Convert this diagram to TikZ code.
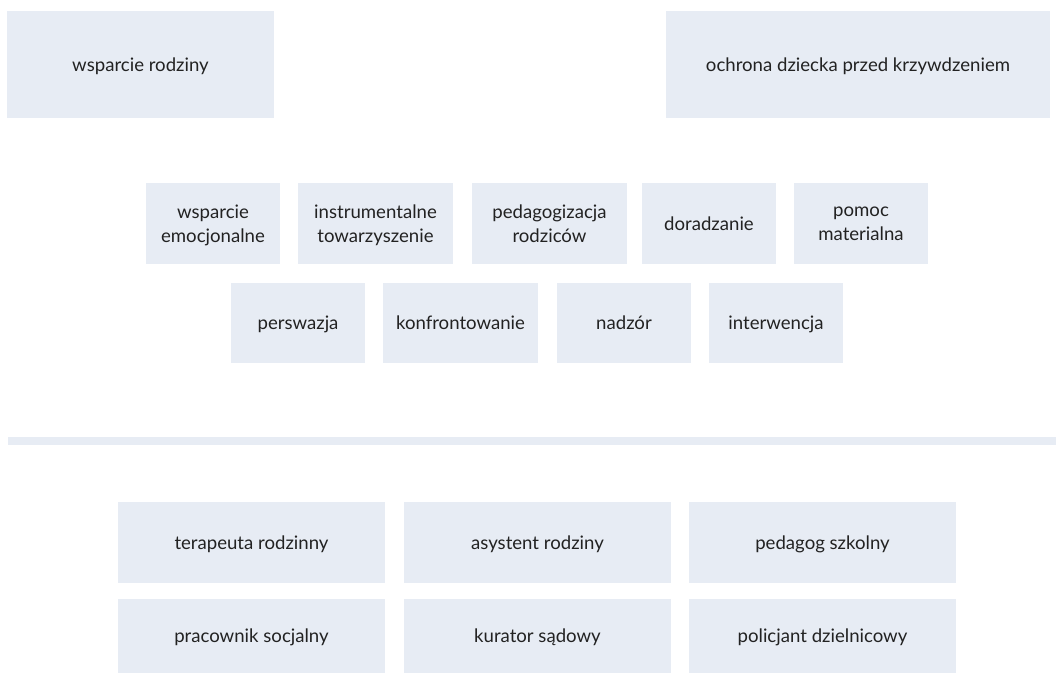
\documentclass[tikz,border=0pt]{standalone}
\usepackage{fontspec}
\setmainfont{Lato}
\usepackage{tikz}
\usetikzlibrary{positioning}

\definecolor{boxfill}{HTML}{E7ECF4}
\definecolor{boxtext}{HTML}{222222}

\begin{document}
\begin{tikzpicture}[
    x=1pt, y=-1pt,
    box/.style={rectangle, fill=boxfill, draw=none, inner sep=0pt, text depth=0pt, align=center, text=boxtext, font=\fontsize{18.6}{24}\selectfont},
    bigbox/.style={box, minimum height=107pt},
    smallbox/.style={box, minimum width=134pt, minimum height=81pt},
    widebox/.style={box, minimum width=155pt, minimum height=81pt},
    rolebox/.style={box, minimum width=267pt, minimum height=81pt}
]
\useasboundingbox (0,0) rectangle (1056,673);

% top: two aims
\node[bigbox, minimum width=267pt] (wsparcie) at (140.5,64.5) {wsparcie rodziny};
\node[bigbox, minimum width=384pt] (ochrona) at (858,64.5) {ochrona dziecka przed krzywdzeniem};

% middle: forms of work
\node[smallbox] (emocjonalne) at (213,223.5) {wsparcie\\emocjonalne};
\node[widebox] (towarzyszenie) at (375.5,223.5) {instrumentalne\\towarzyszenie};
\node[widebox] (pedagogizacja) at (549.5,223.5) {pedagogizacja\\rodziców};
\node[smallbox] (doradzanie) at (709,223.5) {doradzanie};
\node[smallbox] (pomoc) at (861,223.5) {pomoc\\materialna};

\node[smallbox, minimum height=80pt] (perswazja) at (298,323) {perswazja};
\node[widebox, minimum height=80pt] (konfront) at (460.5,323) {konfrontowanie};
\node[smallbox, minimum height=80pt] (nadzor) at (624,323) {nadzór};
\node[smallbox, minimum height=80pt] (interwencja) at (776,323) {interwencja};

% divider
\fill[boxfill] (8,437) rectangle (1056,445);

% bottom: professionals
\node[rolebox] (terapeuta) at (251.5,542.5) {terapeuta rodzinny};
\node[rolebox] (asystent) at (537.5,542.5) {asystent rodziny};
\node[rolebox] (pedagog) at (822.5,542.5) {pedagog szkolny};
\node[rolebox, minimum height=74pt] (pracownik) at (251.5,636) {pracownik socjalny};
\node[rolebox, minimum height=74pt] (kurator) at (537.5,636) {kurator sądowy};
\node[rolebox, minimum height=74pt] (policjant) at (822.5,636) {policjant dzielnicowy};

\end{tikzpicture}
\end{document}
